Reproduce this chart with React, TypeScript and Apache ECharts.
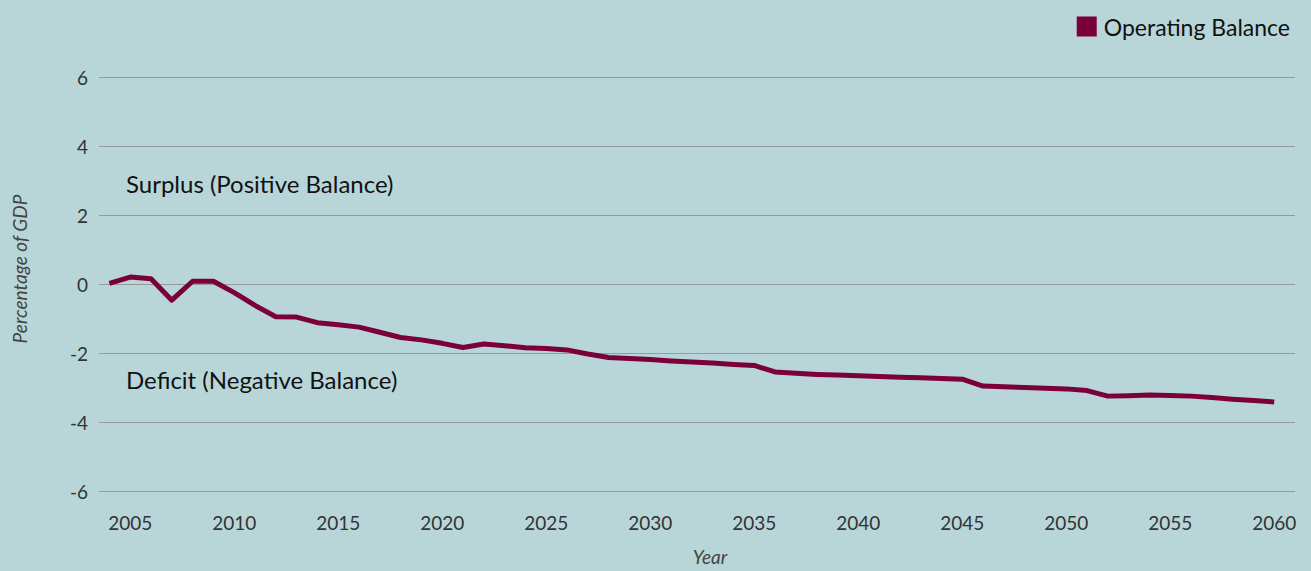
import React, { useEffect, useRef } from "react";
import * as echarts from "echarts";

const years: number[] = [
  2004, 2005, 2006, 2007, 2008, 2009, 2010, 2011, 2012, 2013, 2014, 2015, 2016, 2017, 2018, 2019,
  2020, 2021, 2022, 2023, 2024, 2025, 2026, 2027, 2028, 2029, 2030, 2031, 2032, 2033, 2034, 2035,
  2036, 2037, 2038, 2039, 2040, 2041, 2042, 2043, 2044, 2045, 2046, 2047, 2048, 2049, 2050, 2051,
  2052, 2053, 2054, 2055, 2056, 2057, 2058, 2059, 2060,
];

const operatingBalance: number[] = [
  0.02, 0.2, 0.15, -0.47, 0.08, 0.08, -0.25, -0.62, -0.95, -0.96, -1.12, -1.18, -1.25, -1.4, -1.55, -1.62,
  -1.72, -1.84, -1.74, -1.79, -1.85, -1.87, -1.91, -2.03, -2.13, -2.16, -2.19, -2.23, -2.26, -2.29, -2.33, -2.36,
  -2.55, -2.59, -2.62, -2.64, -2.66, -2.68, -2.7, -2.72, -2.74, -2.76, -2.96, -2.98, -3.0, -3.02, -3.04, -3.09,
  -3.25, -3.24, -3.22, -3.23, -3.25, -3.29, -3.34, -3.38, -3.42,
];

const xTickLabels: number[] = [2005, 2010, 2015, 2020, 2025, 2030, 2035, 2040, 2045, 2050, 2055, 2060];
const yTicks: number[] = [-6, -4, -2, 0, 2, 4, 6];

const seriesName = "Operating Balance";
const surplusLabel = "Surplus (Positive Balance)";
const deficitLabel = "Deficit (Negative Balance)";

const FONT = "Lato, 'Open Sans', sans-serif";

export default function App() {
  const ref = useRef<HTMLDivElement>(null);

  useEffect(() => {
    if (!ref.current) return;
    const chart = echarts.init(ref.current, null, { renderer: "svg" });
    const data = years.map((y, i) => [y, operatingBalance[i]]);
    chart.setOption({
      animation: false,
      backgroundColor: "#b8d6d8",
      textStyle: { fontFamily: FONT },
      grid: { left: 99, right: 16, top: 77, bottom: 78, containLabel: false },
      legend: {
        data: [{ name: seriesName, icon: "rect" }],
        right: 16,
        top: 10,
        itemWidth: 20,
        itemHeight: 20,
        itemGap: 10,
        textStyle: { fontFamily: FONT, fontSize: 23, color: "#111", padding: [0, 0, 0, 2] },
      },
      xAxis: {
        type: "value",
        min: 2003.5,
        max: 2061,
        name: "Year",
        nameLocation: "middle",
        nameGap: 56,
        nameTextStyle: {
          fontFamily: FONT,
          fontSize: 19,
          fontStyle: "italic",
          color: "#444",
          padding: [0, 0, 0, 26],
        },
        axisLine: { show: false },
        axisTick: { show: false },
        splitLine: { show: false },
        axisLabel: {
          customValues: xTickLabels,
          margin: 22,
          fontFamily: FONT,
          fontSize: 19,
          color: "#333",
          formatter: (v: number) => String(v),
        },
      },
      yAxis: {
        type: "value",
        min: yTicks[0],
        max: yTicks[yTicks.length - 1],
        interval: 2,
        name: "Percentage of GDP",
        nameLocation: "middle",
        nameGap: 70,
        nameRotate: 90,
        nameTextStyle: {
          fontFamily: FONT,
          fontSize: 19,
          fontStyle: "italic",
          color: "#444",
          padding: [0, 0, 0, 30],
        },
        axisLine: { show: false },
        axisTick: { show: false },
        splitLine: { show: true, lineStyle: { color: "#999", width: 1 } },
        axisLabel: { margin: 11, fontFamily: FONT, fontSize: 19, color: "#333" },
      },
      graphic: [
        {
          type: "text",
          left: 126,
          top: 171,
          style: { text: surplusLabel, font: `24px ${FONT}`, fill: "#111" },
        },
        {
          type: "text",
          left: 126,
          top: 367,
          style: { text: deficitLabel, font: `24px ${FONT}`, fill: "#111" },
        },
      ],
      series: [
        {
          name: seriesName,
          type: "line",
          data,
          symbol: "none",
          smooth: false,
          color: "#7b0039",
          lineStyle: { width: 5, color: "#7b0039", join: "round", cap: "butt" },
        },
      ],
    });
    return () => chart.dispose();
  }, []);

  return (
    <div
      ref={ref}
      style={{ position: "fixed", left: 0, top: 0, width: 1311, height: 571 }}
    />
  );
}
